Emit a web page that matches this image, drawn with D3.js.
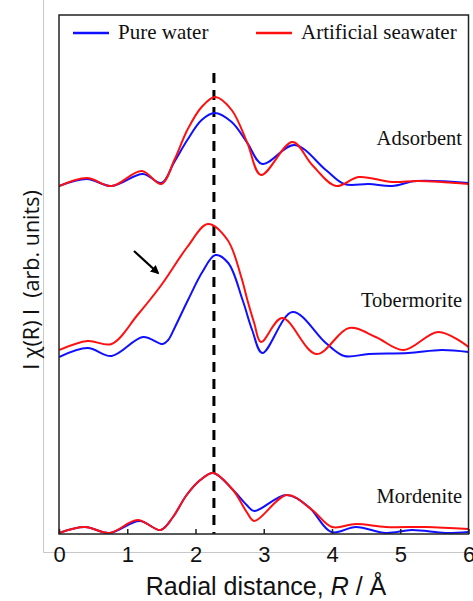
<!DOCTYPE html>
<html><head><meta charset="utf-8">
<script src="https://cdn.jsdelivr.net/npm/d3@7"></script>
<style>body{margin:0;background:#fff}svg{display:block}</style>
</head><body>
<script>
// ---- data (R in Å, intensity in arbitrary units incl. vertical offset) ----
const xTicks = [0,1,2,3,4,5,6];
const seriesNames = ["Pure water","Artificial seawater"];
const sampleNames = ["Adsorbent","Tobermorite","Mordenite"];
const dashedR = 2.27;

const adsorbentR_pw = [0,0.41,0.77,1.23,1.50,1.69,1.88,2.09,2.28,2.53,2.76,2.98,3.45,3.91,4.18,4.54,4.88,5.23,6.0];
const adsorbentY_pw = [3.48,3.55,3.48,3.60,3.51,3.72,3.94,4.14,4.21,4.12,3.91,3.70,3.89,3.64,3.50,3.50,3.48,3.53,3.51];
const adsorbentR_sw = [0,0.41,0.77,1.21,1.50,1.69,1.88,2.09,2.29,2.53,2.76,2.96,3.42,3.71,4.06,4.39,4.88,5.27,6.0];
const adsorbentY_sw = [3.48,3.56,3.48,3.63,3.50,3.74,4.04,4.27,4.37,4.24,3.91,3.59,3.92,3.69,3.48,3.57,3.52,3.53,3.50];

const tobermoriteR_pw = [0,0.42,0.77,1.23,1.52,1.60,1.70,1.89,2.10,2.29,2.48,2.69,2.83,2.98,3.42,3.91,4.18,4.54,5.12,5.61,6.0];
const tobermoriteY_pw = [1.77,1.86,1.78,1.97,1.90,1.94,2.07,2.34,2.62,2.79,2.71,2.34,2.04,1.81,2.22,1.91,1.78,1.80,1.81,1.84,1.82];
const tobermoriteR_sw = [0,0.42,0.77,1.15,1.50,1.88,2.18,2.47,2.67,2.76,2.86,2.96,3.27,3.77,4.25,4.64,5.05,5.56,6.0];
const tobermoriteY_sw = [1.84,1.93,1.90,2.19,2.49,2.87,3.10,2.94,2.57,2.34,2.11,1.92,2.16,1.80,2.06,1.97,1.84,2.02,1.87];

const mordeniteR_pw = [0,0.38,0.74,1.18,1.49,1.67,1.87,2.07,2.26,2.55,2.75,2.86,3.33,3.66,3.99,4.35,4.79,5.17,5.66,6.0];
const mordeniteY_pw = [0.01,0.07,0.01,0.13,0.04,0.17,0.39,0.54,0.61,0.44,0.29,0.23,0.39,0.27,0.02,0.07,0.01,0.04,0.01,0.02];
const mordeniteR_sw = [0,0.38,0.74,1.15,1.49,1.67,1.87,2.07,2.26,2.55,2.75,2.86,3.34,3.71,4.00,4.35,4.79,5.37,6.0];
const mordeniteY_sw = [0.01,0.07,0.01,0.14,0.04,0.17,0.39,0.54,0.61,0.44,0.22,0.13,0.39,0.24,0.07,0.10,0.07,0.07,0.05];

const zipPts = (r, y) => r.map((v, i) => [v, y[i]]);
const BLUE = "#1010ff", RED = "#ff1010";
const curves = [
  {color: BLUE, pts: zipPts(adsorbentR_pw, adsorbentY_pw)},
  {color: RED,  pts: zipPts(adsorbentR_sw, adsorbentY_sw)},
  {color: BLUE, pts: zipPts(tobermoriteR_pw, tobermoriteY_pw)},
  {color: RED,  pts: zipPts(tobermoriteR_sw, tobermoriteY_sw)},
  {color: BLUE, pts: zipPts(mordeniteR_pw, mordeniteY_pw)},
  {color: RED,  pts: zipPts(mordeniteR_sw, mordeniteY_sw)}
];
const labelY = [3.89, 2.27, 0.31]; // label baseline heights in data units

const W = 473, H = 601;
const L = 59, R = 468.5, T = 15, B = 534;
const x = d3.scaleLinear().domain([0,6]).range([L,R]);
const y = d3.scaleLinear().domain([0,5.19]).range([B,T]);

const svg = d3.select("body").append("svg").attr("width",W).attr("height",H);

// light gray outer frame lines
svg.append("line").attr("x1",43.5).attr("x2",43.5).attr("y1",0).attr("y2",552.5).attr("stroke","#c8c8c8").attr("stroke-width",1);
svg.append("line").attr("x1",43.5).attr("x2",W).attr("y1",552.5).attr("y2",552.5).attr("stroke","#c8c8c8").attr("stroke-width",1);

// clip
svg.append("clipPath").attr("id","clip").append("rect").attr("x",L).attr("y",T).attr("width",R-L).attr("height",B-T);

// dashed line
svg.append("line").attr("x1",x(dashedR)).attr("x2",x(dashedR)).attr("y1",73).attr("y2",B)
  .attr("stroke","#000").attr("stroke-width",3).attr("stroke-dasharray","10,7");

const line = d3.line().x(d=>x(d[0])).y(d=>y(d[1])).curve(d3.curveCatmullRom.alpha(0.5));
const g = svg.append("g").attr("clip-path","url(#clip)");
curves.forEach(c => {
  g.append("path").attr("d", line(c.pts)).attr("fill","none").attr("stroke",c.color).attr("stroke-width",2);
});

// frame
svg.append("rect").attr("x",L).attr("y",T).attr("width",R-L).attr("height",B-T)
  .attr("fill","none").attr("stroke","#222").attr("stroke-width",1.5);

// x axis ticks (inward)
const xAxis = d3.axisBottom(x).tickValues(xTicks).tickSize(-5).tickPadding(12).tickFormat(d3.format("d"));
const ax = svg.append("g").attr("transform",`translate(0,${B})`).call(xAxis);
ax.select(".domain").remove();
ax.selectAll(".tick line").attr("stroke","#222").attr("stroke-width",1.5);
ax.selectAll(".tick text").attr("font-family","Liberation Sans, Arial, sans-serif").attr("font-size",22).attr("fill","#111");

// axis titles
const xt = svg.append("text").attr("x",266).attr("y",595).attr("text-anchor","middle")
  .attr("font-family","Liberation Sans, Arial, sans-serif").attr("font-size",25).attr("fill","#111");
xt.append("tspan").text("Radial distance, ");
xt.append("tspan").attr("font-style","italic").text("R");
xt.append("tspan").text(" / Å");

svg.append("text").attr("transform","translate(39,280) rotate(-90)").attr("text-anchor","middle")
  .attr("font-family","Open Sans, Noto Sans, sans-serif").attr("font-size",21.5).attr("fill","#111")
  .attr("xml:space","preserve").text("I χ(R) I  (arb. units)");

// sample labels
sampleNames.forEach((s,i) => {
  svg.append("text").attr("x",462).attr("y",y(labelY[i])).attr("text-anchor","end")
    .attr("font-family","Liberation Serif, Times New Roman, serif").attr("font-size",20.5).attr("fill","#111").text(s);
});

// legend
const legX = [73, 256];
seriesNames.forEach((s,i) => {
  svg.append("line").attr("x1",legX[i]).attr("x2",legX[i]+36).attr("y1",33).attr("y2",33)
    .attr("stroke", i===0 ? BLUE : RED).attr("stroke-width",2.5);
  svg.append("text").attr("x",legX[i]+45).attr("y",38.5)
    .attr("font-family","Liberation Serif, Times New Roman, serif").attr("font-size",21).attr("fill","#111").text(s);
});

// arrow
svg.append("defs").append("marker").attr("id","ah").attr("viewBox","0 0 10 10").attr("refX",8).attr("refY",5)
  .attr("markerWidth",4).attr("markerHeight",4).attr("orient","auto")
  .append("path").attr("d","M0,0L10,5L0,10z").attr("fill","#000");
svg.append("line").attr("x1",134).attr("y1",251).attr("x2",158).attr("y2",273)
  .attr("stroke","#000").attr("stroke-width",2.2).attr("marker-end","url(#ah)");
</script>
</body></html>
